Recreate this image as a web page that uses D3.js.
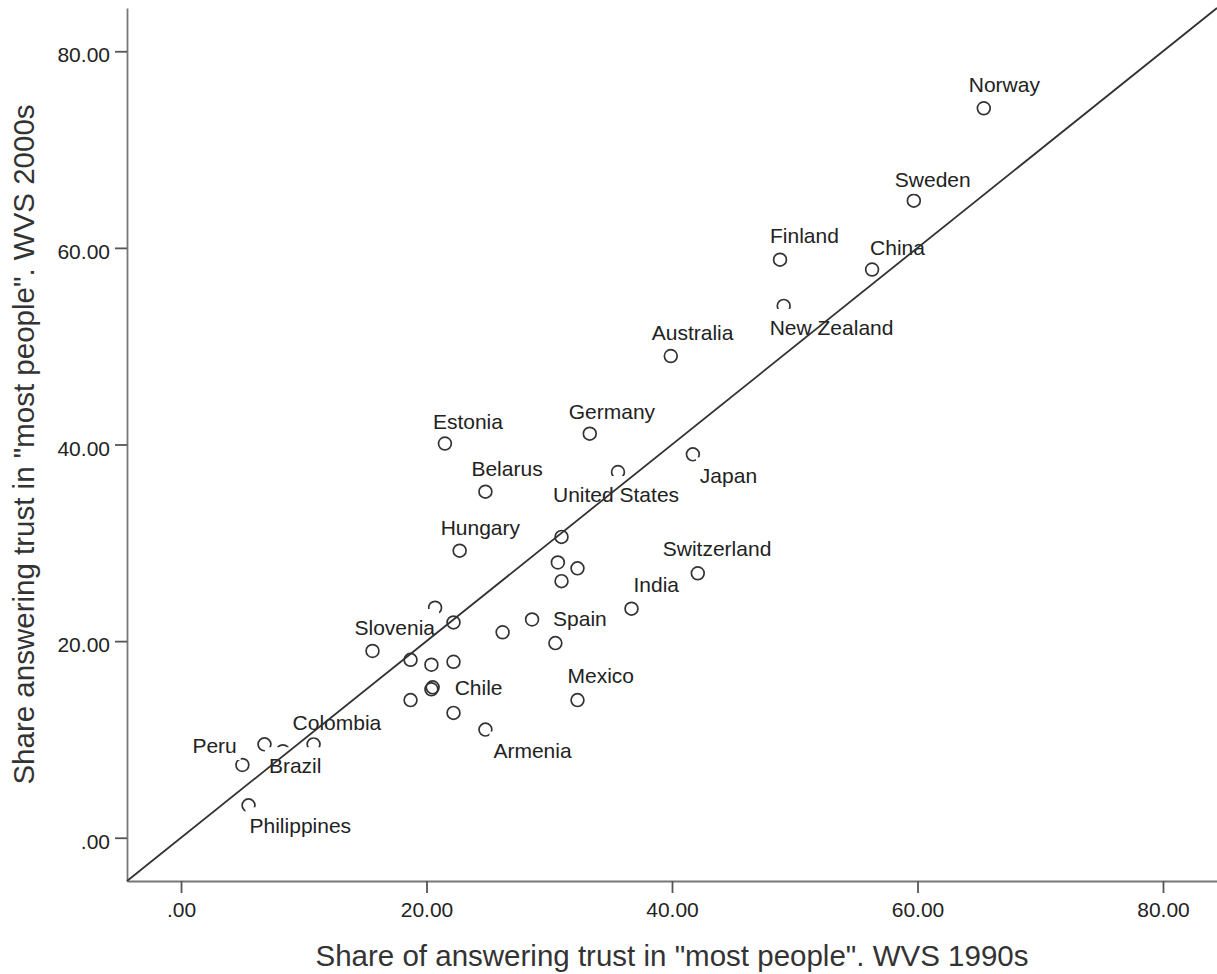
<!DOCTYPE html>
<html><head><meta charset="utf-8">
<script src="https://cdn.jsdelivr.net/npm/d3@7"></script>
<style>
body{margin:0;background:#fff}
svg{display:block}
text{font-family:"Liberation Sans",Arial,sans-serif}
</style>
</head><body>
<svg id="chart" width="1217" height="974"></svg>
<script>
// ---- data ----
const countries = ["Norway","Sweden","Finland","China","New Zealand","Australia","Germany","Estonia","Japan","United States","Belarus","Hungary","","","","","Switzerland","India","Spain","","","","","Slovenia","","","","Chile","","","","Armenia","Mexico","Peru","","Brazil","Colombia","Philippines"];
const trust1990s = [65.4,59.7,48.8,56.3,49.1,39.9,33.3,21.5,41.7,35.6,24.8,22.7,31.0,30.7,32.3,31.0,42.1,36.7,28.6,26.2,30.5,20.7,22.2,15.6,18.7,20.4,22.2,20.5,20.4,18.7,22.2,24.8,32.3,5.0,6.8,8.3,10.8,5.5];
const trust2000s = [74.2,64.8,58.8,57.8,54.1,49.0,41.1,40.1,39.0,37.2,35.2,29.2,30.6,28.0,27.4,26.1,26.9,23.3,22.2,20.9,19.8,23.4,21.9,19.0,18.1,17.6,17.9,15.3,15.1,14.0,12.7,11.0,14.0,7.4,9.5,8.8,9.5,3.3];
const xTickValues = [0,20,40,60,80];
const yTickValues = [0,20,40,60,80];
const xTitle = 'Share of answering trust in "most people". WVS 1990s';
const yTitle = 'Share answering trust in "most people". WVS 2000s';
const axisMin = -4.4, axisMax = 84.4;

// ---- layout (label placement, pixels relative to the marker) ----
const labelOffsets = {
  "Norway":[-15,-16],"Sweden":[-19,-14],"Finland":[-10,-17],"China":[-2,-15],
  "New Zealand":[-14,29],"Australia":[-19,-16],"Germany":[-21,-15],"Estonia":[-12,-15],
  "Japan":[7,29],"United States":[-65,30],"Belarus":[-14,-16],"Hungary":[-19,-16],
  "Switzerland":[-35,-17],"India":[2,-17],"Spain":[21,7],"Slovenia":[-18,-16],
  "Chile":[22,8],"Mexico":[-10,-17],"Armenia":[8,28],"Colombia":[-21,-14],
  "Peru":[-50,-12],"Brazil":[-14,22],"Philippines":[1,28]
};

const svg = d3.select("#chart");
const x = d3.scaleLinear().domain([axisMin, axisMax]).range([127, 1217]);
const y = d3.scaleLinear().domain([axisMin, axisMax]).range([881, 8]);
const fmt = d => d === 0 ? ".00" : d.toFixed(2);

const axisColor = "#777";
const gx = svg.append("g").attr("transform", `translate(0,${y(axisMin)})`)
  .call(d3.axisBottom(x).tickValues(xTickValues).tickFormat(fmt).tickSize(12).tickSizeOuter(0).tickPadding(9));
const gy = svg.append("g").attr("transform", `translate(${x(axisMin)},0)`)
  .call(d3.axisLeft(y).tickValues(yTickValues).tickFormat(fmt).tickSize(12).tickSizeOuter(0).tickPadding(5));
[gx, gy].forEach(g => {
  g.select(".domain").attr("stroke", axisColor).attr("stroke-width", 1.8);
  g.selectAll(".tick line").attr("stroke", "#555").attr("stroke-width", 1.8);
  g.selectAll(".tick text").attr("fill", "#222").style("font-size", "21px").attr("font-family", null);
});
gy.selectAll(".tick text").attr("dy", "0.5em");

const data = countries.map((c, i) => ({name: c, a: trust1990s[i], b: trust2000s[i]}));

svg.append("g").selectAll("circle").data(data).join("circle")
  .attr("cx", d => x(d.a)).attr("cy", d => y(d.b)).attr("r", 6.4)
  .attr("fill", "none").attr("stroke", "#333").attr("stroke-width", 1.7);

const lg = svg.append("g");
data.filter(d => d.name).forEach(d => {
  const off = labelOffsets[d.name];
  const tx = x(d.a) + off[0], ty = y(d.b) + off[1];
  const g = lg.append("g");
  const r = g.append("rect").attr("fill", "#fff");
  const t = g.append("text").attr("x", tx).attr("y", ty).text(d.name)
    .style("font-size", "21px").attr("fill", "#222");
  const w = t.node().getComputedTextLength();
  r.attr("x", tx - 4).attr("y", ty - 26).attr("width", w + 8).attr("height", 33);
});

svg.append("path").datum([axisMin, axisMax])
  .attr("d", d3.line().x(d => x(d)).y(d => y(d)))
  .attr("stroke", "#333").attr("stroke-width", 1.8).attr("fill", "none");

svg.append("text").attr("x", (x(axisMin) + x(axisMax)) / 2).attr("y", 966)
  .attr("text-anchor", "middle").style("font-size", "29.5px").attr("fill", "#333").text(xTitle);
svg.append("text").attr("transform", `translate(34,${(y(axisMin) + y(axisMax)) / 2}) rotate(-90)`)
  .attr("text-anchor", "middle").style("font-size", "29.5px").attr("fill", "#333").text(yTitle);
</script>
</body></html>
